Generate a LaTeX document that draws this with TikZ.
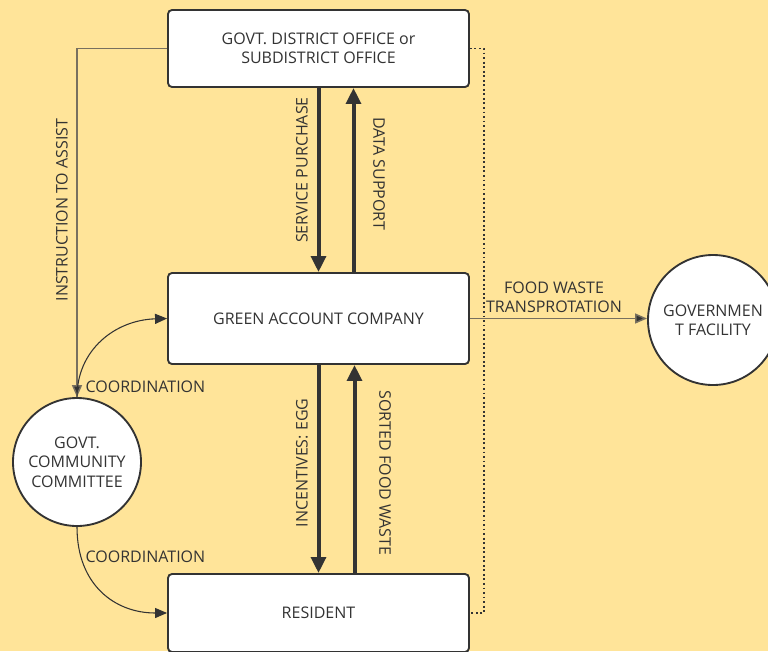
\documentclass[tikz,border=0pt]{standalone}
\usepackage{fontspec}
\setmainfont{Open Sans}
\usetikzlibrary{arrows.meta,positioning,calc}
\definecolor{bgyellow}{RGB}{255,228,153}
\definecolor{ink}{RGB}{51,51,51}
\definecolor{thinline}{RGB}{120,112,95}

\begin{document}
\begin{tikzpicture}[x=0.75pt,y=-0.75pt,font=\fontsize{12}{14.5}\selectfont,text=ink,
 box/.style={draw=ink,line width=1.4pt,rounded corners=3pt,fill=white,align=center,minimum width=225.75pt},
 circ/.style={draw=ink,circle,line width=1.4pt,fill=white,align=center,inner sep=0pt},
 flow/.style={draw=ink,line width=3pt,-{Triangle[length=12pt,width=11pt]}},
 thin/.style={draw=thinline,line width=1.1pt,-{Triangle[length=9pt,width=7.5pt,fill=ink]}},
 curv/.style={draw=ink,line width=0.8pt,-{Triangle[length=9pt,width=7.5pt]}},
 lab/.style={inner sep=1pt}]
\fill[bgyellow] (0,0) rectangle (768,651);
\useasboundingbox (0,0) rectangle (768,651);
\node[box,minimum height=57.75pt] (dist) at (318.5,48.5) {GOVT. DISTRICT OFFICE or\\SUBDISTRICT OFFICE};
\node[box,minimum height=68.25pt] (green) at (318.5,318.5) {GREEN ACCOUNT COMPANY};
\node[box,minimum height=58.5pt] (resident) at (318.5,613) {RESIDENT};
\node[circ,minimum size=96pt] (comm) at (77,462) {GOVT.\\COMMUNITY\\COMMITTEE};
\node[circ,minimum size=97.5pt] (fac) at (713,320) {GOVERNMEN\\T FACILITY};
% vertical flows
\draw[flow] (dist.south) -- (green.north);
\draw[flow] ($(green.north)+(35,0)$) -- ($(dist.south)+(35,0)$);
\draw[flow] (green.south) -- (resident.north);
\draw[flow] ($(resident.north)+(36,0)$) -- ($(green.south)+(36,0)$);
\node[lab,rotate=90] at (302,170) {SERVICE PURCHASE};
\node[lab,rotate=-90] at (379,174) {DATA SUPPORT};
\node[lab,rotate=90] at (302,463) {INCENTIVES: EGG};
\node[lab,rotate=-90] at (385,473) {SORTED FOOD WASTE};
% left side
\draw[thin] (dist.west) -- (77,48.5) -- (comm.north);
\node[lab,rotate=90] at (62,210) {INSTRUCTION TO ASSIST};
\draw[curv] (comm.north) .. controls (77,350) and (115,320) .. (green.west);
\node[lab,anchor=west] at (84,387) {COORDINATION};
\draw[curv] (comm.south) .. controls (77,585) and (115,613) .. (resident.west);
\node[lab,anchor=west] at (84,557) {COORDINATION};
% right side
\draw[thin] (green.east) -- (green.east -| fac.west);
\node[lab,align=center] at (554,297) {FOOD WASTE\\TRANSPROTATION};
\draw[ink,line width=1.4pt,dotted] (dist.east) -- (484,48.5) -- (484,613) -- (resident.east);
\end{tikzpicture}
\end{document}
